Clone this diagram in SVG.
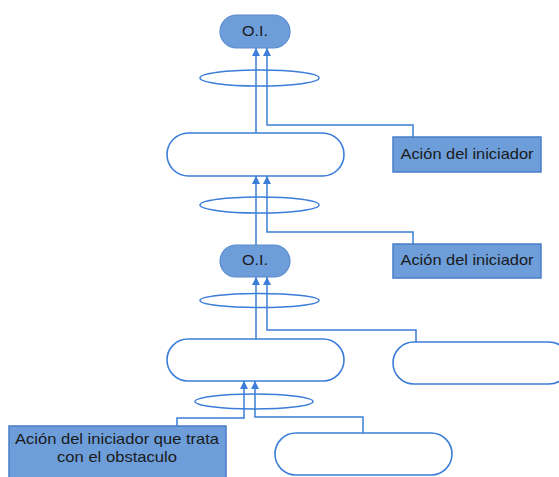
<svg xmlns="http://www.w3.org/2000/svg" width="559" height="477" viewBox="0 0 559 477">
<defs>
<style>
.oi{fill:#6d9eda;stroke:#5a8bd0;stroke-width:1.2}
.box{fill:#6d9eda;stroke:#4a7cc8;stroke-width:1.5}
.pill{fill:#ffffff;stroke:#3b7dd8;stroke-width:1.6}
.ell{fill:none;stroke:#3b7dd8;stroke-width:1.5}
.con{fill:none;stroke:#3b7dd8;stroke-width:1.5;marker-end:url(#arr)}
.con2{fill:none;stroke:#3b7dd8;stroke-width:1.5}
.t{font-family:"Liberation Sans",Arial,sans-serif;font-size:14.5px;fill:#1a1a1a;text-anchor:middle}
</style>
<marker id="arr" markerUnits="userSpaceOnUse" markerWidth="9" markerHeight="9" refX="8" refY="4" orient="auto">
<path d="M0,0 L8,4 L0,8 z" fill="#3b7dd8"/>
</marker>
</defs>
<g id="connectors">
<path class="con" d="M256 133 V48"/>
<path class="con" d="M413 137 V125 H267 V48"/>
<path class="con" d="M256 245 V176"/>
<path class="con" d="M413 244 V232 H267 V176"/>
<path class="con" d="M256 339 V277"/>
<path class="con" d="M416 342 V330 H267 V277"/>
<path class="con" d="M177 426 V418 H244 V381"/>
<path class="con" d="M363 433 V417 H255 V381"/>
<ellipse class="ell" cx="259.5" cy="78" rx="59.5" ry="8"/>
<ellipse class="ell" cx="259.5" cy="205" rx="59.5" ry="8"/>
<ellipse class="ell" cx="259.5" cy="300.5" rx="59.5" ry="7"/>
<ellipse class="ell" cx="254" cy="401.5" rx="59" ry="7.5"/>
</g>
<g id="oi1">
<rect class="oi" x="220" y="15" width="70" height="33" rx="16.5"/>
<text class="t" x="255" y="36" textLength="26" lengthAdjust="spacingAndGlyphs">O.I.</text>
</g>
<g id="pill1">
<rect class="pill" x="167" y="133" width="177" height="43" rx="21.5"/>
</g>
<g id="accion1">
<rect class="box" x="393" y="137" width="148" height="35"/>
<text class="t" x="467" y="159" textLength="133" lengthAdjust="spacingAndGlyphs">Ación del iniciador</text>
</g>
<g id="oi2">
<rect class="oi" x="220" y="245" width="70" height="32" rx="16"/>
<text class="t" x="255" y="265" textLength="26" lengthAdjust="spacingAndGlyphs">O.I.</text>
</g>
<g id="accion2">
<rect class="box" x="393" y="244" width="148" height="34"/>
<text class="t" x="467" y="265" textLength="133" lengthAdjust="spacingAndGlyphs">Ación del iniciador</text>
</g>
<g id="pill2">
<rect class="pill" x="167" y="339" width="177" height="42" rx="21"/>
</g>
<g id="pill3">
<rect class="pill" x="393" y="342" width="177" height="42" rx="21"/>
</g>
<g id="accion3">
<rect class="box" x="9" y="426" width="217" height="52"/>
<text class="t" x="117" y="444" textLength="204" lengthAdjust="spacingAndGlyphs">Ación del iniciador que trata</text>
<text class="t" x="117" y="462" textLength="120" lengthAdjust="spacingAndGlyphs">con el obstaculo</text>
</g>
<g id="pill4">
<rect class="pill" x="275" y="433" width="177" height="42" rx="21"/>
</g>
</svg>
